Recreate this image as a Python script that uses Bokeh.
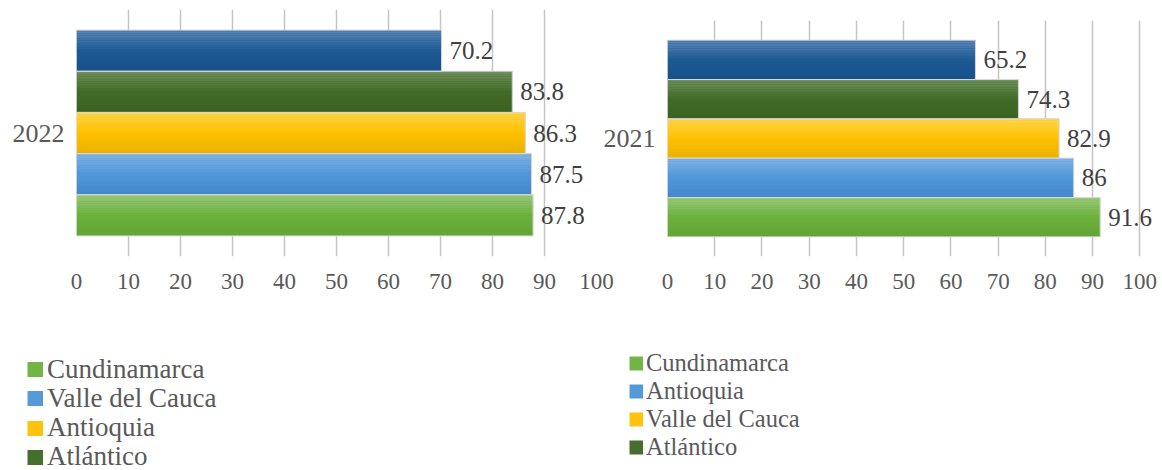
from bokeh.plotting import figure
from bokeh.models import ColumnDataSource, Range1d, FixedTicker, Legend, LegendItem
from bokeh.layouts import row, column
from bokeh.embed import file_html
from bokeh.resources import INLINE
from bokeh.core.properties import value

# ---------------- data ----------------
years = ["2022", "2021"]
# series listed from the bottom bar to the top bar
names_2022 = ["Cundinamarca", "Valle del Cauca", "Antioquia", "Atlántico", ""]
values_2022 = [87.8, 87.5, 86.3, 83.8, 70.2]
names_2021 = ["Cundinamarca", "Antioquia", "Valle del Cauca", "Atlántico", ""]
values_2021 = [91.6, 86, 82.9, 74.3, 65.2]
x_ticks = [0, 10, 20, 30, 40, 50, 60, 70, 80, 90, 100]

# ---------------- style ----------------
FONT = "Liberation Serif"
TICK_COLOR = "#595959"
VALUE_COLOR = "#404040"
GRID_COLOR = "#c4c4c4"
# gradient (top, middle, bottom) per bar slot, bottom slot first
GRADS = [
    ("#9cca7d", "#6cb13d", "#61a334"),   # green
    ("#82b4e4", "#5097d9", "#4486ca"),   # light blue
    ("#ffd64f", "#ffc000", "#e7b000"),   # yellow
    ("#72915f", "#416b27", "#3a6122"),   # dark green
    ("#5c88b7", "#1d5a93", "#17508a"),   # dark blue
]
LEGEND_COLORS = ["#72b544", "#5599d8", "#ffc20e", "#466f2d"]
STRIPES = 24


def hex2rgb(h):
    h = h.lstrip("#")
    return tuple(int(h[i:i + 2], 16) for i in (0, 2, 4))


def grad_color(stops, t):
    a, b, c = (hex2rgb(s) for s in stops)
    if t < 0.5:
        u = t / 0.5
        p, q = a, b
    else:
        u = (t - 0.5) / 0.5
        p, q = b, c
    r = [round(p[j] + (q[j] - p[j]) * u) for j in range(3)]
    return "#%02x%02x%02x" % tuple(r)


def make_panel(year, vals, width, height, x_end, b_left, b_right, b_top, b_bottom):
    p = figure(width=width, height=height, output_backend="svg", toolbar_location=None,
               x_range=Range1d(0, x_end), y_range=Range1d(0, 6),
               min_border_left=b_left, min_border_right=b_right,
               min_border_top=b_top, min_border_bottom=b_bottom,
               frame_align=False)
    p.outline_line_color = None
    p.background_fill_alpha = 0
    p.border_fill_alpha = 0

    ys = [i + 1 for i in range(len(vals))]
    base = ColumnDataSource(dict(y=ys, right=vals,
                                 color=[GRADS[i][1] for i in range(len(vals))],
                                 label=["%g" % v for v in vals]))
    # base bar
    p.hbar(y="y", right="right", left=0, height=1.0, source=base,
           fill_color="color", line_color=None)
    # gradient stripes
    sy, sr, sc = [], [], []
    for i, v in enumerate(vals):
        for k in range(STRIPES):
            t = (k + 0.5) / STRIPES
            sy.append(ys[i] + 0.5 - t)
            sr.append(v)
            sc.append(grad_color(GRADS[i], t))
    stripes = ColumnDataSource(dict(y=sy, right=sr, color=sc))
    p.hbar(y="y", right="right", left=0, height=1.0 / STRIPES, source=stripes,
           fill_color="color", line_color=None)
    # thin light outline
    p.hbar(y="y", right="right", left=0, height=1.0, source=base,
           fill_alpha=0, line_color="#d6d6d6", line_width=1)
    # value labels
    p.text(x="right", y="y", text="label", source=base, x_offset=8, y_offset=0,
           text_font=value(FONT), text_font_size="25px", text_color=VALUE_COLOR,
           text_align="left", text_baseline="middle")

    # x axis
    p.xaxis.ticker = FixedTicker(ticks=x_ticks)
    p.xaxis.axis_line_color = None
    p.xaxis.major_tick_line_color = None
    p.xaxis.minor_tick_line_color = None
    p.xaxis.major_tick_out = 0
    p.xaxis.major_tick_in = 0
    p.xaxis.major_label_standoff = 17
    p.xaxis.major_label_text_font = FONT
    p.xaxis.major_label_text_font_size = "23px"
    p.xaxis.major_label_text_color = TICK_COLOR
    p.xgrid.ticker = FixedTicker(ticks=x_ticks)
    p.xgrid.grid_line_color = GRID_COLOR
    p.xgrid.grid_line_width = 1.5
    p.ygrid.visible = False
    # y axis (category label)
    p.yaxis.ticker = FixedTicker(ticks=[3])
    p.yaxis.major_label_overrides = {3: year}
    p.yaxis.axis_line_color = None
    p.yaxis.major_tick_line_color = None
    p.yaxis.minor_tick_line_color = None
    p.yaxis.major_tick_out = 0
    p.yaxis.major_tick_in = 0
    p.yaxis.major_label_standoff = 12
    p.yaxis.major_label_text_font = FONT
    p.yaxis.major_label_text_font_size = "26px"
    p.yaxis.major_label_text_color = TICK_COLOR
    return p


def make_legend(names, width, height, top_offset, x0, first_center, pitch, font,
                glyph_w, glyph_h, line_w, standoff):
    p = figure(width=width, height=height, output_backend="svg", toolbar_location=None,
               x_range=Range1d(0, 1), y_range=Range1d(0, 1),
               x_axis_location=None, y_axis_location=None,
               min_border_left=0, min_border_right=0,
               min_border_top=0, min_border_bottom=0, frame_align=False)
    p.outline_line_color = None
    p.grid.visible = False
    p.background_fill_alpha = 0
    p.border_fill_alpha = 0
    for i in range(4):
        # off-range line: only its legend swatch is visible
        r = p.line(x=[5, 6], y=[5, 6], line_color=LEGEND_COLORS[i], line_width=line_w,
                   line_cap="butt")
        center = first_center + i * pitch - top_offset
        vy = height - center - glyph_h / 2
        leg = Legend(items=[LegendItem(label=names[i], renderers=[r])],
                     location=(x0, vy), orientation="vertical",
                     glyph_width=glyph_w, glyph_height=glyph_h, label_height=glyph_h,
                     spacing=0, padding=0, margin=0, label_standoff=standoff,
                     border_line_alpha=0, background_fill_alpha=0,
                     label_text_font=FONT, label_text_font_size=font,
                     label_text_color=TICK_COLOR)
        p.add_layout(leg)
    return p


TOP_H = 310
left = make_panel(years[0], values_2022, width=615, height=TOP_H, x_end=100,
                  b_left=76, b_right=19, b_top=9, b_bottom=TOP_H - 9 - 247)
right = make_panel(years[1], values_2021, width=562, height=TOP_H, x_end=104.8,
                   b_left=67, b_right=0, b_top=20, b_bottom=TOP_H - 20 - 236)
right.margin = (0, 0, 0, -15)

LEG_H = 470 - TOP_H
leg_left = make_legend(names_2022, width=615, height=LEG_H, top_offset=TOP_H, x0=27,
                       first_center=369, pitch=29.3, font="27px",
                       glyph_w=16, glyph_h=32, line_w=15, standoff=4)
leg_right = make_legend(names_2021, width=547, height=LEG_H, top_offset=TOP_H, x0=14,
                        first_center=363, pitch=27.9, font="24.5px",
                        glyph_w=14, glyph_h=30, line_w=14, standoff=3)

layout = column(row(left, right), row(leg_left, leg_right))

open("out.html", "w").write(file_html(layout, INLINE))
